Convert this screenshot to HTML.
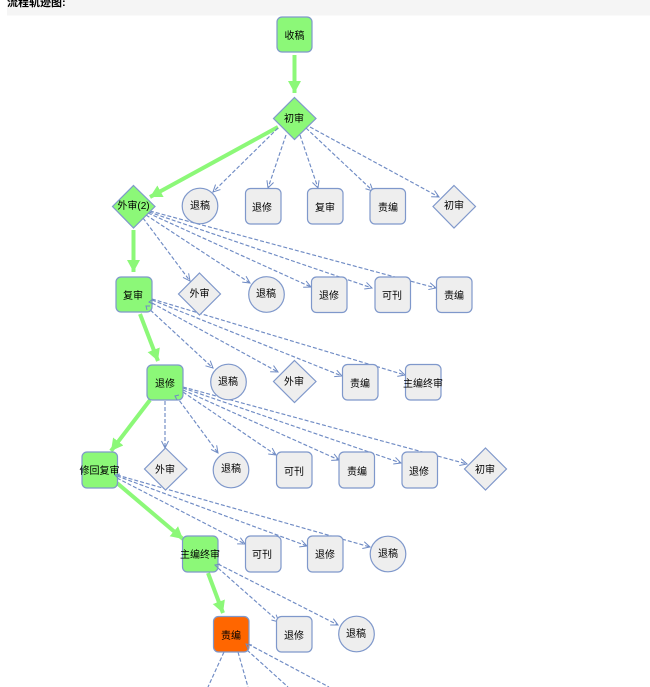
<!DOCTYPE html>
<html><head><meta charset="utf-8"><style>
html,body{margin:0;padding:0;background:#fff;width:650px;height:687px;overflow:hidden}
svg{display:block}
text{font-family:"Liberation Sans","WenQuanYi Zen Hei","Noto Sans CJK SC",sans-serif;font-size:10px;fill:#000;text-anchor:middle}
.t{font-size:11px;font-weight:bold;text-anchor:start}
.d{stroke:#6f8bc4;stroke-width:1.150;stroke-dasharray:4 2;fill:none;marker-end:url(#o)}
.v{stroke:#6f8bc4;stroke-width:1;fill:none}
.g{stroke:#8cf878;stroke-width:4;fill:none;marker-end:url(#a)}
.n rect,.n circle,.n polygon{stroke:#7f98cb;stroke-width:1.200}
.n rect,.n circle,.n polygon{fill:#eeeeee}
.e rect,.e polygon{fill:#8cf878}
.f rect{fill:#ff6600}
</style></head><body>
<svg width="650" height="687" viewBox="0 0 650 687" xmlns="http://www.w3.org/2000/svg">
<defs>
<marker id="o" markerUnits="userSpaceOnUse" markerWidth="10" markerHeight="10" refX="8" refY="5" orient="auto"><path d="M1 1.500L8 5L1 8.500" fill="none" stroke="#6f8bc4" stroke-width="1"/></marker>
<marker id="a" markerUnits="userSpaceOnUse" markerWidth="15" markerHeight="15" refX="12" refY="7.500" orient="auto"><path d="M0 1L12 7.500L0 14Z" fill="#8cf878"/></marker>
</defs>
<rect x="7" y="0" width="643" height="15.500" fill="#f5f5f5"/>
<text class="t" x="7" y="6">流程轨迹图:</text>

<g>
<line class="g" x1="294.500" y1="55" x2="294.500" y2="93"/>
<line class="g" x1="278" y1="127" x2="150" y2="197"/>
<line class="g" x1="133.500" y1="230" x2="133.500" y2="272"/>
<line class="g" x1="140" y1="314" x2="158" y2="361"/>
<line class="g" x1="150" y1="400" x2="111" y2="451"/>
<line class="g" x1="117" y1="483" x2="183" y2="539"/>
<line class="g" x1="208" y1="573" x2="223" y2="613"/>

<line class="d" x1="278" y1="128" x2="213" y2="192"/>
<line class="d" x1="286" y1="135" x2="268" y2="188"/>
<line class="d" x1="300" y1="135" x2="318" y2="188"/>
<line class="d" x1="306" y1="128" x2="373" y2="191"/>
<line class="d" x1="310" y1="127" x2="439" y2="197"/>

<line class="d" x1="143" y1="218" x2="190" y2="281"/>
<line class="d" x1="146" y1="215" x2="250" y2="283"/>
<line class="d" x1="148" y1="213" x2="311" y2="287"/>
<line class="d" x1="149" y1="212" x2="372" y2="288"/>
<line class="d" x1="150" y1="211" x2="436" y2="288"/>

<line class="d" x1="146" y1="306" x2="213" y2="368"/>
<line class="d" x1="152" y1="303" x2="278" y2="372"/>
<line class="d" x1="152" y1="300" x2="342" y2="376"/>
<line class="d" x1="152" y1="299" x2="405" y2="375"/>

<line class="d" x1="165" y1="401" x2="165" y2="448"/>
<line class="d" x1="176" y1="396" x2="218" y2="453"/>
<line class="d" x1="183" y1="392" x2="276" y2="455"/>
<line class="d" x1="183" y1="390" x2="339" y2="460"/>
<line class="d" x1="183" y1="388" x2="401" y2="463"/>
<line class="d" x1="183" y1="387" x2="467" y2="464"/>

<line class="d" x1="117" y1="478" x2="245" y2="544"/>
<line class="d" x1="117" y1="476" x2="307" y2="546"/>
<line class="d" x1="117" y1="475" x2="370" y2="547"/>

<line class="d" x1="218" y1="568" x2="279" y2="622"/>
<line class="d" x1="218" y1="564" x2="338" y2="625"/>

<line class="d" style="marker-end:none" x1="224" y1="652" x2="208" y2="687"/>
<line class="d" style="marker-end:none" x1="238" y1="652" x2="248" y2="687"/>
<line class="d" style="marker-end:none" x1="247" y1="650" x2="288" y2="687"/>
<line class="d" style="marker-end:none" x1="248" y1="644" x2="329" y2="687"/>
</g>

<g class="n e">
<rect x="277" y="17" width="35" height="35" rx="5"/><text x="294.500" y="39">收稿</text>
<polygon points="294.500,97.500 316,118.500 294.500,139.500 273.500,118.500"/><text x="294" y="122">初审</text>
<polygon points="133.500,185.500 155,206.500 133.500,228 112.500,206.500"/><text x="133.500" y="209">外审(2)</text>
<rect x="116" y="277" width="36" height="35" rx="5"/><text x="133" y="299">复审</text>
<rect x="147" y="365" width="36" height="35" rx="5"/><text x="165" y="387">退修</text>
<rect x="82" y="452" width="35.500" height="36" rx="5"/><text x="99.500" y="474">修回复审</text>
<rect x="182.500" y="536" width="35.500" height="36" rx="5"/><text x="200" y="558">主编终审</text>
</g>
<g class="n f"><rect x="213.500" y="616.500" width="35.500" height="35.500" rx="5"/><text x="231" y="639">责编</text></g>

<g class="n">
<circle cx="200" cy="206" r="17.800"/><text x="200" y="209">退稿</text>
<rect x="245.500" y="188.500" width="35.500" height="35.500" rx="5"/><text x="262" y="211">退修</text>
<rect x="307.500" y="188.500" width="35.500" height="35.500" rx="5"/><text x="325" y="211">复审</text>
<rect x="370" y="188.500" width="35.500" height="35.500" rx="5"/><text x="388" y="211">责编</text>
<polygon points="454,185.500 475.500,206.500 454,228 433,206.500"/><text x="454" y="209">初审</text>

<polygon points="199.500,273 220.500,294 199.500,315 178.500,294"/><text x="199.500" y="297">外审</text>
<circle cx="266.500" cy="294.500" r="17.800"/><text x="266" y="297">退稿</text>
<rect x="311.500" y="277" width="35.500" height="35.500" rx="5"/><text x="329" y="299">退修</text>
<rect x="375" y="277" width="35.500" height="35.500" rx="5"/><text x="392" y="299">可刊</text>
<rect x="436.500" y="277" width="35.500" height="35.500" rx="5"/><text x="454" y="299">责编</text>

<circle cx="228.500" cy="382" r="17.800"/><text x="228" y="385">退稿</text>
<polygon points="294.500,360.500 316,381.500 294.500,402.500 273.500,381.500"/><text x="294" y="385">外审</text>
<rect x="342.500" y="364.500" width="35.500" height="35.500" rx="5"/><text x="360" y="387">责编</text>
<rect x="405.500" y="364.500" width="35.500" height="35.500" rx="5"/><text x="423" y="387">主编终审</text>

<polygon points="165.500,448 187,469 165.500,490 144.500,469"/><text x="165" y="473">外审</text>
<circle cx="231" cy="470" r="17.800"/><text x="231" y="472">退稿</text>
<rect x="276.500" y="452" width="35.500" height="36" rx="5"/><text x="294" y="475">可刊</text>
<rect x="339" y="452" width="35.500" height="36" rx="5"/><text x="357" y="475">责编</text>
<rect x="402" y="452" width="35.500" height="36" rx="5"/><text x="419" y="475">退修</text>
<polygon points="485.500,448 506.500,469 485.500,490 464.500,469"/><text x="485" y="473">初审</text>

<rect x="245.500" y="536" width="35.500" height="36" rx="5"/><text x="262" y="558">可刊</text>
<rect x="307.500" y="536" width="35.500" height="36" rx="5"/><text x="325" y="558">退修</text>
<circle cx="388" cy="554" r="17.800"/><text x="388" y="557">退稿</text>

<rect x="276.500" y="616.500" width="35.500" height="35.500" rx="5"/><text x="294" y="639">退修</text>
<circle cx="356.500" cy="634" r="17.800"/><text x="356" y="637">退稿</text>
</g>

<path class="v" d="M153 299L149 302L153 304"/>
<path class="v" d="M150 306L146 306L147 310"/>
<path class="v" d="M179 395L175 396L177 400"/>
<path class="v" d="M120 474L115 475L118 478"/>
<path class="v" d="M220 564L215 565L218 568"/>
<path class="v" d="M252 645L246 644L248 649"/>
</svg>
</body></html>
